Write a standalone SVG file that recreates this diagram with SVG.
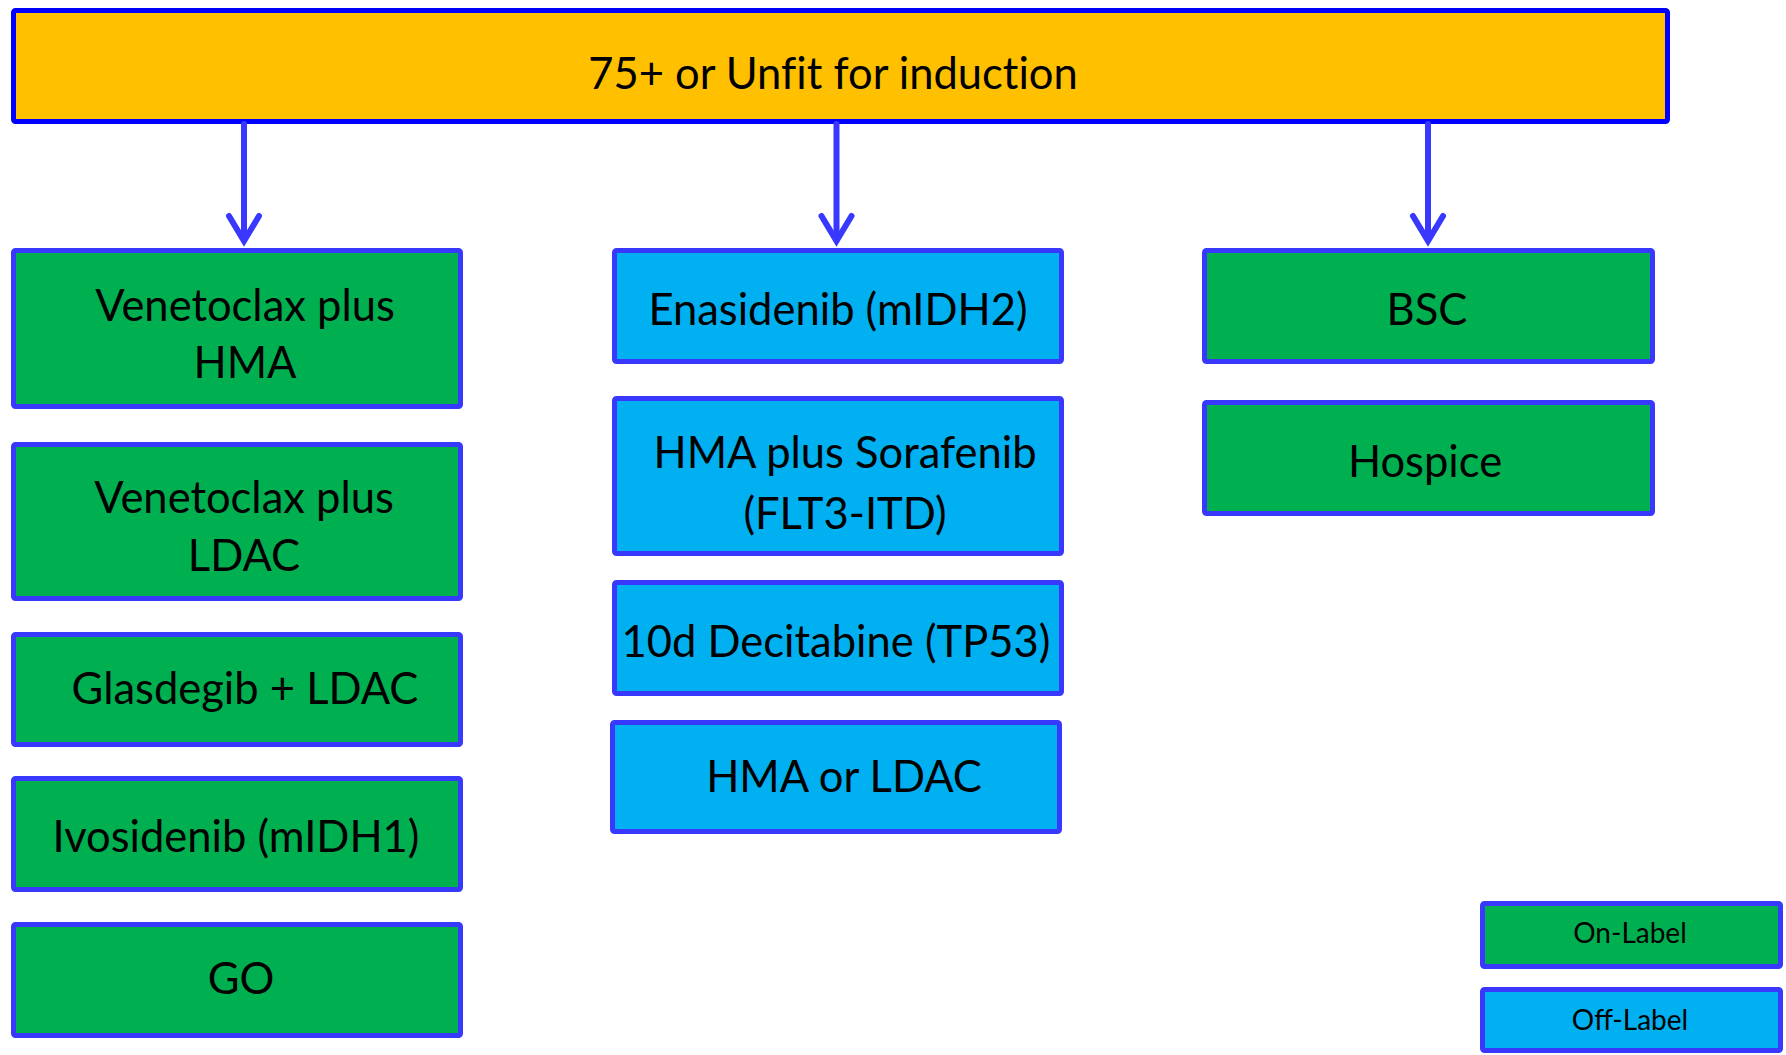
<svg xmlns="http://www.w3.org/2000/svg" width="1786" height="1055" viewBox="0 0 1786 1055">
  <style>
    .box { stroke: #3838FF; stroke-width: 5; }
    .on { fill: #00B050; }
    .off { fill: #00B0F0; }
    .top { fill: #FFC000; stroke: #0000FF; stroke-width: 5; }
    .lbl { font-family: Lato, "Liberation Sans", sans-serif; font-size: 43.5px; fill: #000; text-anchor: middle; font-variant-ligatures: none; }
    .key { font-family: Lato, "Liberation Sans", sans-serif; font-size: 28px; fill: #000; text-anchor: middle; }
    .arrow { fill: none; stroke: #3838FF; stroke-width: 6; stroke-linecap: round; stroke-linejoin: miter; }
  </style>
  <rect width="1786" height="1055" fill="#FFFFFF"/>

  <!-- entry criterion -->
  <g id="root">
    <rect class="top" x="13.5" y="10.5" width="1654" height="111" rx="2"/>
    <text class="lbl" x="833" y="89">75+ or Unfit for induction</text>
  </g>

  <!-- branches -->
  <g id="connectors">
    <g id="to-left">
      <line class="arrow" x1="244" y1="124" x2="244" y2="240"/>
      <polyline class="arrow" points="229,216 244,241 259,216"/>
    </g>
    <g id="to-middle">
      <line class="arrow" x1="836.5" y1="124" x2="836.5" y2="240"/>
      <polyline class="arrow" points="821.5,216 836.5,241 851.5,216"/>
    </g>
    <g id="to-right">
      <line class="arrow" x1="1428" y1="124" x2="1428" y2="240"/>
      <polyline class="arrow" points="1413,216 1428,241 1443,216"/>
    </g>
  </g>

  <!-- left column -->
  <g id="ven-hma">
    <rect class="box on" x="13.5" y="250.5" width="447" height="156" rx="2"/>
    <text class="lbl" x="245" y="321">Venetoclax plus</text>
    <text class="lbl" x="245" y="378">HMA</text>
  </g>
  <g id="ven-ldac">
    <rect class="box on" x="13.5" y="444.5" width="447" height="154" rx="2"/>
    <text class="lbl" x="244" y="513">Venetoclax plus</text>
    <text class="lbl" x="244" y="571">LDAC</text>
  </g>
  <g id="glasdegib">
    <rect class="box on" x="13.5" y="634.5" width="447" height="110" rx="2"/>
    <text class="lbl" x="245" y="704">Glasdegib + LDAC</text>
  </g>
  <g id="ivosidenib">
    <rect class="box on" x="13.5" y="778.5" width="447" height="111" rx="2"/>
    <text class="lbl" x="236" y="852">Ivosidenib (mIDH1)</text>
  </g>
  <g id="go">
    <rect class="box on" x="13.5" y="924.5" width="447" height="111" rx="2"/>
    <text class="lbl" x="241" y="994">GO</text>
  </g>

  <!-- middle column -->
  <g id="enasidenib">
    <rect class="box off" x="614.5" y="250.5" width="447" height="111" rx="2"/>
    <text class="lbl" x="838" y="325">Enasidenib (mIDH2)</text>
  </g>
  <g id="hma-sorafenib">
    <rect class="box off" x="614.5" y="398.5" width="447" height="155" rx="2"/>
    <text class="lbl" x="845" y="468">HMA plus Sorafenib</text>
    <text class="lbl" x="845" y="529">(FLT3-ITD)</text>
  </g>
  <g id="decitabine">
    <rect class="box off" x="614.5" y="582.5" width="447" height="111" rx="2"/>
    <text class="lbl" x="836" y="657">10d Decitabine (TP53)</text>
  </g>
  <g id="hma-ldac">
    <rect class="box off" x="612.5" y="722.5" width="447" height="109" rx="2"/>
    <text class="lbl" x="844" y="792">HMA or LDAC</text>
  </g>

  <!-- right column -->
  <g id="bsc">
    <rect class="box on" x="1204.5" y="250.5" width="448" height="111" rx="2"/>
    <text class="lbl" x="1427" y="325">BSC</text>
  </g>
  <g id="hospice">
    <rect class="box on" x="1204.5" y="402.5" width="448" height="111" rx="2"/>
    <text class="lbl" x="1425" y="477">Hospice</text>
  </g>

  <!-- legend -->
  <g id="legend-on">
    <rect class="box on" x="1482.5" y="903.5" width="298" height="63" rx="2"/>
    <text class="key" x="1630" y="943">On-Label</text>
  </g>
  <g id="legend-off">
    <rect class="box off" x="1482.5" y="989.5" width="298" height="61" rx="2"/>
    <text class="key" x="1630" y="1030">Off-Label</text>
  </g>
</svg>
